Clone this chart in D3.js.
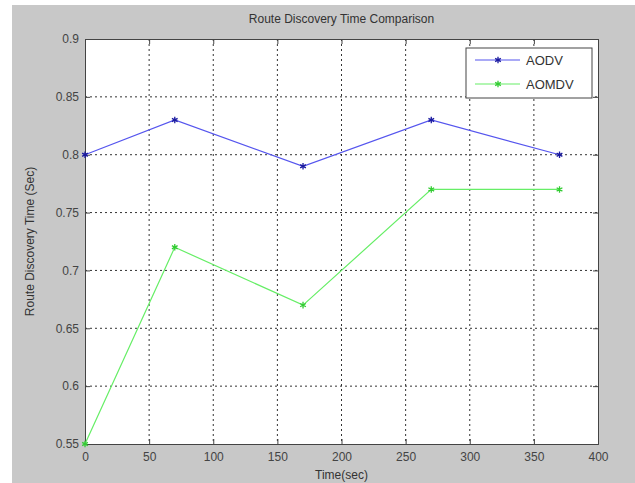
<!DOCTYPE html>
<html>
<head>
<meta charset="utf-8">
<script src="https://cdn.jsdelivr.net/npm/d3@7"></script>
<style>
  body { margin: 0; background: #fff; }
  text { font-family: Arial, "Liberation Sans", sans-serif; }
</style>
</head>
<body>
<svg id="chart"></svg>
<script>
// chart data
const times = [0, 70, 170, 270, 370];
const aodv = [0.80, 0.83, 0.79, 0.83, 0.80];
const aomdv = [0.55, 0.72, 0.67, 0.77, 0.77];
const seriesNames = ['AODV', 'AOMDV'];
const xTicks = [0, 50, 100, 150, 200, 250, 300, 350, 400];
const yTicks = [0.55, 0.6, 0.65, 0.7, 0.75, 0.8, 0.85, 0.9];

const width = 635, height = 483;
const margin = {top: 39, right: 37, bottom: 39, left: 85};
const innerW = width - margin.left - margin.right;
const innerH = height - margin.top - margin.bottom;

const svg = d3.select('#chart')
    .attr('width', width)
    .attr('height', height);

// grey figure background
svg.append('rect')
    .attr('x', 12).attr('y', 5)
    .attr('width', width - 12).attr('height', height - 5)
    .attr('fill', '#c8c8c8');

const chart = svg.append('g')
    .attr('transform', `translate(${margin.left},${margin.top})`);

const xScale = d3.scaleLinear().domain([0, 400]).range([0, innerW]);
const yScale = d3.scaleLinear().domain([0.55, 0.9]).range([innerH, 0]);

chart.append('rect')
    .attr('width', innerW).attr('height', innerH)
    .attr('fill', '#fff');

// dotted grid
chart.selectAll('.vgrid')
    .data(xTicks.slice(1, -1))
    .join('line')
    .attr('class', 'vgrid')
    .attr('x1', d => xScale(d)).attr('x2', d => xScale(d))
    .attr('y1', 0).attr('y2', innerH)
    .attr('stroke', '#333').attr('stroke-width', 1)
    .attr('stroke-dasharray', '2,3');

chart.selectAll('.hgrid')
    .data(yTicks.slice(1, -1))
    .join('line')
    .attr('class', 'hgrid')
    .attr('x1', 0).attr('x2', innerW)
    .attr('y1', d => yScale(d)).attr('y2', d => yScale(d))
    .attr('stroke', '#333').attr('stroke-width', 1)
    .attr('stroke-dasharray', '2,3');

// axes: ticks point inward, labels outside
const xAxis = d3.axisBottom(xScale).tickValues(xTicks).tickSize(-5).tickPadding(8)
    .tickFormat(d3.format('d'));
const yAxis = d3.axisLeft(yScale).tickValues(yTicks).tickSize(-5).tickPadding(6)
    .tickFormat(d => d === 0.6 || d === 0.7 || d === 0.8 || d === 0.9 ? d.toFixed(1) : d.toFixed(2));

const xAxisG = chart.append('g')
    .attr('transform', `translate(0,${innerH})`)
    .call(xAxis);
const yAxisG = chart.append('g').call(yAxis);
chart.append('g').call(d3.axisTop(xScale).tickValues(xTicks).tickSize(-5).tickFormat(''));
chart.append('g').attr('transform', `translate(${innerW},0)`)
    .call(d3.axisRight(yScale).tickValues(yTicks).tickSize(-5).tickFormat(''));

chart.selectAll('.domain').attr('stroke', '#444');
chart.selectAll('.tick line').attr('stroke', '#444');
chart.selectAll('.tick text')
    .attr('fill', '#444')
    .style('font-size', '12px');

// series lines
const series = [
    {name: seriesNames[0], values: aodv, line: '#5555ee', mark: '#1a1aa0'},
    {name: seriesNames[1], values: aomdv, line: '#66ee66', mark: '#33cc33'}
];

const line = d3.line()
    .x((d, i) => xScale(times[i]))
    .y(d => yScale(d));

const star = d3.symbol().type(d3.symbolAsterisk).size(30);

series.forEach(s => {
    chart.append('path')
        .datum(s.values)
        .attr('fill', 'none')
        .attr('stroke', s.line)
        .attr('stroke-width', 1.2)
        .attr('d', line);
    chart.selectAll(null)
        .data(s.values)
        .join('path')
        .attr('transform', (d, i) => `translate(${xScale(times[i])},${yScale(d)})`)
        .attr('d', star)
        .attr('fill', 'none')
        .attr('stroke', s.mark)
        .attr('stroke-width', 1.3);
});

// legend
const legend = svg.append('g').attr('transform', 'translate(466,48)');
legend.append('rect')
    .attr('width', 126).attr('height', 50)
    .attr('fill', '#fff')
    .attr('stroke', '#444');
series.forEach((s, i) => {
    const y = 12 + i * 24;
    legend.append('line')
        .attr('x1', 9).attr('x2', 54)
        .attr('y1', y).attr('y2', y)
        .attr('stroke', s.line).attr('stroke-width', 1.2);
    legend.append('path')
        .attr('transform', `translate(32,${y})`)
        .attr('d', star)
        .attr('fill', 'none')
        .attr('stroke', s.mark).attr('stroke-width', 1.3);
    legend.append('text')
        .attr('x', 60).attr('y', y)
        .attr('dy', '0.35em')
        .attr('fill', '#333')
        .style('font-size', '13px')
        .text(s.name);
});

// titles
svg.append('text')
    .attr('x', margin.left + innerW / 2).attr('y', 23)
    .attr('text-anchor', 'middle')
    .attr('fill', '#333')
    .style('font-size', '12px')
    .text('Route Discovery Time Comparison');

svg.append('text')
    .attr('x', margin.left + innerW / 2).attr('y', 479)
    .attr('text-anchor', 'middle')
    .attr('fill', '#333')
    .style('font-size', '12px')
    .text('Time(sec)');

svg.append('text')
    .attr('transform', `translate(34,${margin.top + innerH / 2}) rotate(-90)`)
    .attr('text-anchor', 'middle')
    .attr('fill', '#333')
    .style('font-size', '12px')
    .text('Route Discovery Time (Sec)');
</script>
</body>
</html>
